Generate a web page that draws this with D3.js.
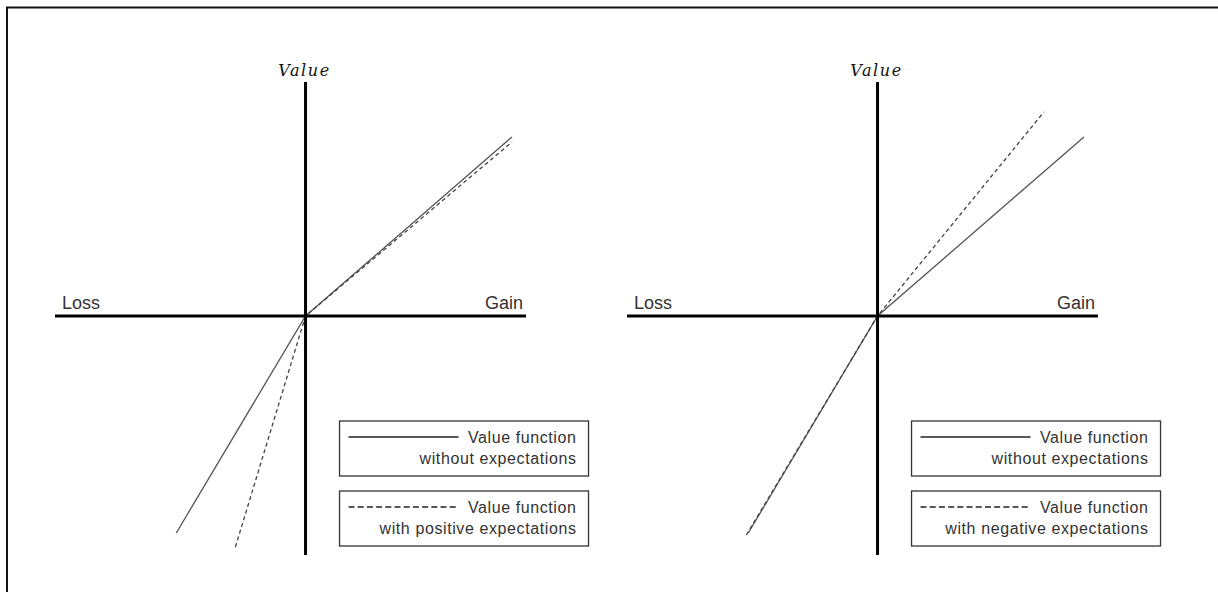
<!DOCTYPE html>
<html lang="en">
<head>
<meta charset="UTF-8">
<title>Value function with expectations</title>
<script src="https://d3js.org/d3.v7.min.js"></script>
<style>
  body { margin: 0; background: #fff; }
  svg { display: block; }
  .lbl { font-family: "Liberation Sans", Arial, sans-serif; fill: #333; }
  .valueLbl { font-family: "DejaVu Serif", serif; font-style: italic; fill: #111; }
</style>
</head>
<body>
<div id="chart"></div>
<script>
// axis extents in "value units" (gain on x, value on y)
const xExtent = [-100, 88];
const yExtent = [-95.6, 93.6];

// value function points: [gain/loss, value]
const withoutExpectations = [[-51.6, -86.8], [0, 0], [82.4, 71.6]];
const positiveExpectations = [[-28, -92.4], [0, 0], [82.4, 69.6]];
const negativeExpectations = [[-52.4, -87.6], [0, 0], [66.4, 81.6]];

const panelSeries = [
  [withoutExpectations, positiveExpectations],
  [withoutExpectations, negativeExpectations]
];
const legendLines1 = ["Value function", "without expectations"];
const legendLines2 = [
  ["Value function", "with positive expectations"],
  ["Value function", "with negative expectations"]
];
const axisLabels = { left: "Loss", right: "Gain", top: "Value" };

const W = 1218, H = 592;
const svg = d3.select("#chart").append("svg")
  .attr("width", W).attr("height", H);

// outer frame (only top and left visible in the picture)
svg.append("path")
  .attr("d", `M7,${H + 5} V7.5 H${W + 5}`)
  .attr("fill", "none").attr("stroke", "#111").attr("stroke-width", 2);

const panelLeft = [55, 627];
const panelW = 471;

panelSeries.forEach((series, i) => {
  const x = d3.scaleLinear().domain(xExtent).range([panelLeft[i], panelLeft[i] + panelW]);
  const y = d3.scaleLinear().domain(yExtent).range([555, 82]);
  const g = svg.append("g");
  const line = d3.line().x(d => x(d[0])).y(d => y(d[1]));

  // value function curves
  g.append("path").datum(series[0])
    .attr("d", line).attr("fill", "none")
    .attr("stroke", "#555").attr("stroke-width", 1.3);
  g.append("path").datum(series[1])
    .attr("d", line).attr("fill", "none")
    .attr("stroke", "#444").attr("stroke-width", 1.3)
    .attr("stroke-dasharray", "4,3");

  // axes
  g.append("line")
    .attr("x1", x(xExtent[0])).attr("x2", x(xExtent[1]))
    .attr("y1", y(0)).attr("y2", y(0))
    .attr("stroke", "#000").attr("stroke-width", 3);
  g.append("line")
    .attr("x1", x(0)).attr("x2", x(0))
    .attr("y1", y(yExtent[0])).attr("y2", y(yExtent[1]))
    .attr("stroke", "#000").attr("stroke-width", 3);

  g.append("text").attr("class", "lbl")
    .attr("x", x(xExtent[0]) + 7).attr("y", y(0) - 7)
    .attr("font-size", 18).text(axisLabels.left);
  g.append("text").attr("class", "lbl")
    .attr("x", x(xExtent[1]) - 3).attr("y", y(0) - 7)
    .attr("text-anchor", "end").attr("font-size", 18).text(axisLabels.right);
  g.append("text").attr("class", "valueLbl")
    .attr("x", x(0) - 1).attr("y", y(yExtent[1]) - 6)
    .attr("text-anchor", "middle").attr("font-size", 16)
    .attr("letter-spacing", 1.6).text(axisLabels.top);

  // legend boxes
  const bx = x(0) + 34, bw = 249;
  const boxes = [
    { top: 421, lines: legendLines1, dash: null },
    { top: 491, lines: legendLines2[i], dash: "6,3.2" }
  ];
  boxes.forEach(b => {
    const lg = g.append("g");
    lg.append("rect")
      .attr("x", bx).attr("y", b.top).attr("width", bw).attr("height", 55)
      .attr("fill", "#fff").attr("stroke", "#333").attr("stroke-width", 1.3);
    lg.append("line")
      .attr("x1", bx + 9).attr("x2", bx + 119)
      .attr("y1", b.top + 16).attr("y2", b.top + 16)
      .attr("stroke", "#222").attr("stroke-width", 1.3)
      .attr("stroke-dasharray", b.dash);
    b.lines.forEach((t, k) => {
      lg.append("text").attr("class", "lbl")
        .attr("x", bx + bw - 12).attr("y", b.top + 22 + k * 21)
        .attr("text-anchor", "end").attr("font-size", 16)
        .attr("letter-spacing", 0.6).text(t);
    });
  });
});
</script>
</body>
</html>
